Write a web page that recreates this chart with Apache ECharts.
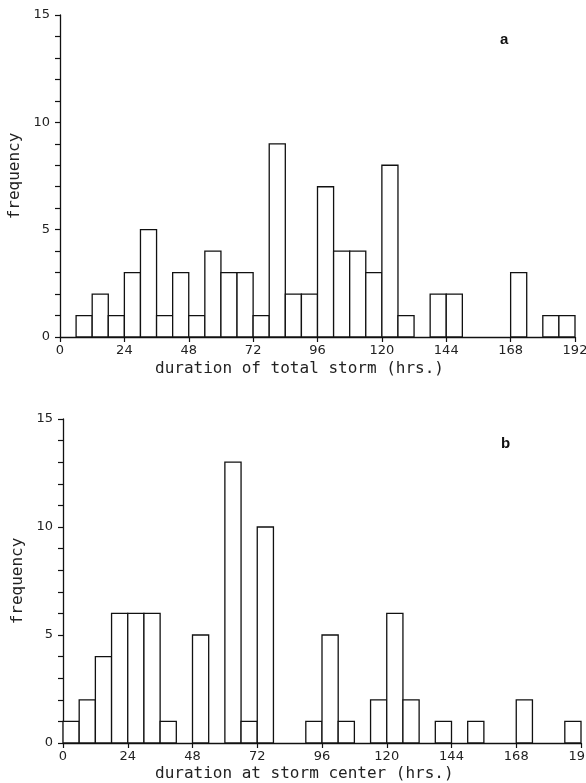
<!DOCTYPE html>
<html>
<head>
<meta charset="utf-8">
<script src="https://cdn.jsdelivr.net/npm/echarts@6/dist/echarts.min.js"></script>
<style>
html,body{margin:0;padding:0;background:#fff;}
#chart{width:586px;height:783px;}
</style>
</head>
<body>
<div id="chart"></div>
<script>
// Bin start hours (6-hour bins)
var binStarts = [0,6,12,18,24,30,36,42,48,54,60,66,72,78,84,90,96,102,108,114,120,126,132,138,144,150,156,162,168,174,180,186];
var binWidth = 6;
// (a) duration of total storm
var freqA = [0,1,2,1,3,5,1,3,1,4,3,3,1,9,2,2,7,4,4,3,8,1,0,2,2,0,0,0,3,0,1,1];
// (b) duration at storm center
var freqB = [1,2,4,6,6,6,1,0,5,0,13,1,10,0,0,1,5,1,0,2,6,2,0,1,0,1,0,0,2,0,0,1];
var xTicks = [0,24,48,72,96,120,144,168,192];
var yTicks = [0,5,10,15];

function toData(freq){
  var out = [];
  for (var i = 0; i < binStarts.length; i++) {
    if (freq[i] > 0) out.push([binStarts[i], binStarts[i] + binWidth, freq[i]]);
  }
  return out;
}
function renderBar(params, api){
  var p0 = api.coord([api.value(0), 0]);
  var p1 = api.coord([api.value(1), api.value(2)]);
  return {
    type: 'rect',
    shape: {x: p0[0], y: p1[1], width: p1[0] - p0[0], height: p0[1] - p1[1]},
    style: {fill: '#fff', stroke: '#111', lineWidth: 1.3}
  };
}
var font = 'DejaVu Sans';
var mono = 'DejaVu Sans Mono';
function xAxisCfg(gi){
  return {
    type: 'value', gridIndex: gi, min: xTicks[0], max: xTicks[xTicks.length-1], interval: 24,
    axisLine: {show: true, lineStyle: {color: '#111', width: 1.3}},
    axisTick: {show: true, length: 5, lineStyle: {color: '#111', width: 1.2}},
    axisLabel: {show: true, margin: 7, color: '#222', fontFamily: font, fontSize: 13,
      formatter: function(v){ return xTicks.indexOf(v) >= 0 ? String(v) : ''; }},
    splitLine: {show: false}
  };
}
function yAxisCfg(gi, gap){
  return {
    type: 'value', gridIndex: gi, min: 0, max: 15, interval: 1,
    axisLine: {show: true, lineStyle: {color: '#111', width: 1.3}},
    axisTick: {show: true, length: 5, lineStyle: {color: '#111', width: 1.2}},
    axisLabel: {show: true, margin: 10, color: '#222', fontFamily: font, fontSize: 13,
      formatter: function(v){ return yTicks.indexOf(v) >= 0 ? String(v) : ''; }},
    splitLine: {show: false},
    name: 'frequency', nameLocation: 'middle', nameGap: gap, nameRotate: 90,
    nameTextStyle: {color: '#222', fontFamily: mono, fontSize: 16}
  };
}
var chart = echarts.init(document.getElementById('chart'), null, {renderer: 'canvas'});
chart.setOption({
  backgroundColor: '#fff',
  animation: false,
  grid: [
    {left: 60, right: 11, top: 15, height: 322, outerBoundsMode: 'none', containLabel: false},
    {left: 63, right: 5, top: 419, height: 324, outerBoundsMode: 'none', containLabel: false}
  ],
  xAxis: [xAxisCfg(0), xAxisCfg(1)],
  yAxis: [yAxisCfg(0, 33), yAxisCfg(1, 30)],
  series: [
    {type: 'custom', xAxisIndex: 0, yAxisIndex: 0, renderItem: renderBar, data: toData(freqA), encode: {x: [0,1], y: 2}},
    {type: 'custom', xAxisIndex: 1, yAxisIndex: 1, renderItem: renderBar, data: toData(freqB), encode: {x: [0,1], y: 2}}
  ],
  graphic: [
    {type: 'text', left: 155, top: 361, style: {text: 'duration of total storm (hrs.)', fill: '#222', font: '16px "DejaVu Sans Mono"'}},
    {type: 'text', left: 155, top: 766, style: {text: 'duration at storm center (hrs.)', fill: '#222', font: '16px "DejaVu Sans Mono"'}},
    {type: 'text', left: 500, top: 32, style: {text: 'a', fill: '#111', font: 'bold 15px "Liberation Sans"'}},
    {type: 'text', left: 501, top: 436, style: {text: 'b', fill: '#111', font: 'bold 15px "Liberation Sans"'}}
  ]
});
</script>
</body>
</html>
